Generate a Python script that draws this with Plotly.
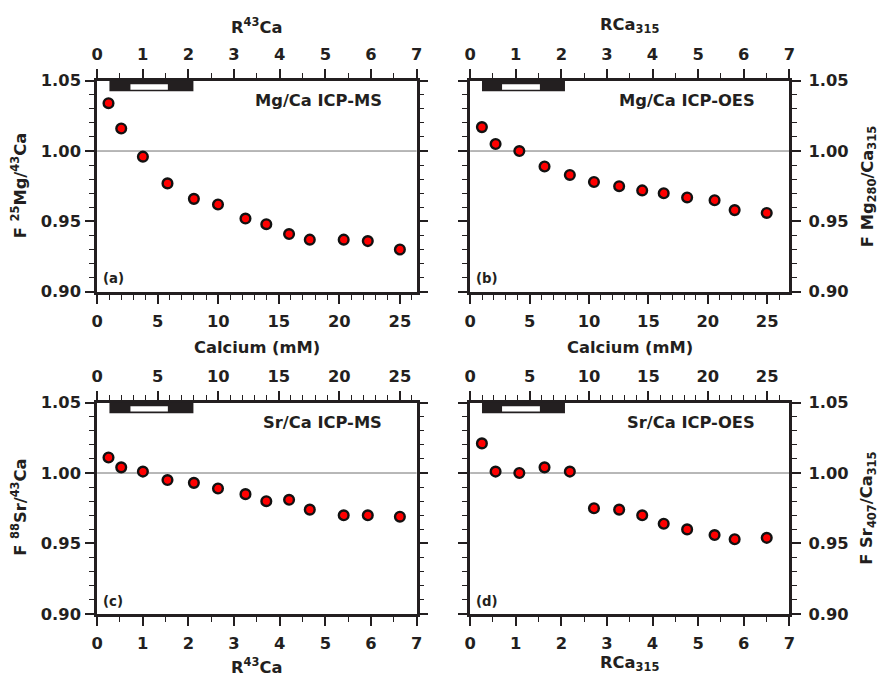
import plotly.graph_objects as go

W, H = 880, 683

# ---------------- data ----------------
calcium_ms = [0.94, 1.99, 3.78, 5.81, 7.99, 9.98, 12.25, 13.97, 15.85, 17.56, 20.36, 22.35, 25.0]
calcium_oes = [0.99, 2.14, 4.14, 6.26, 8.39, 10.42, 12.54, 14.48, 16.29, 18.26, 20.57, 22.26, 24.96]
f_mg_ms = [1.034, 1.016, 0.996, 0.977, 0.966, 0.962, 0.952, 0.948, 0.941, 0.937, 0.937, 0.936, 0.930]
f_mg_oes = [1.017, 1.005, 1.000, 0.989, 0.983, 0.978, 0.975, 0.972, 0.970, 0.967, 0.965, 0.958, 0.956]
f_sr_ms = [1.011, 1.004, 1.001, 0.995, 0.993, 0.989, 0.985, 0.980, 0.981, 0.974, 0.970, 0.970, 0.969]
f_sr_oes = [1.021, 1.001, 1.000, 1.004, 1.001, 0.975, 0.974, 0.970, 0.964, 0.960, 0.956, 0.953, 0.954]

# scale bars (in R units)
bar_ms = [0.27, 2.11]
white_ms = [0.73, 1.55]
bar_oes = [0.26, 2.08]
white_oes = [0.70, 1.53]

panel_titles = ["Mg/Ca ICP-MS", "Mg/Ca ICP-OES", "Sr/Ca ICP-MS", "Sr/Ca ICP-OES"]
panel_letters = ["(a)", "(b)", "(c)", "(d)"]
y_ticks = [0.90, 0.95, 1.00, 1.05]
ca_ticks = [0, 5, 10, 15, 20, 25]
r_ticks = [0, 1, 2, 3, 4, 5, 6, 7]

# ---------------- styling ----------------
INK = "#231f20"
FONT = "DejaVu Sans, Liberation Sans, Arial, sans-serif"
K = 1.02  # size factor

# target positions (reference pixels) are mapped to page pixels
SX = 880 / 864
SY = 683 / 667


def px(x):
    return ((x - 8) * SX) / W


def py(y):
    return 1 - ((y - 8) * SY) / H


cols = [(98.7, 416.7), (470.0, 787.7)]
rows = [(80.0, 292.0), (403.3, 615.7)]
ca_range = {"ms": [0, 26.38], "oes": [0, 26.86]}

panels = [
    dict(col=0, row=0, ca=calcium_ms, f=f_mg_ms, tech="ms", yside="left", ca_side="bottom", bar=bar_ms, white=white_ms),
    dict(col=1, row=0, ca=calcium_oes, f=f_mg_oes, tech="oes", yside="right", ca_side="bottom", bar=bar_oes, white=white_oes),
    dict(col=0, row=1, ca=calcium_ms, f=f_sr_ms, tech="ms", yside="left", ca_side="top", bar=bar_ms, white=white_ms),
    dict(col=1, row=1, ca=calcium_oes, f=f_sr_oes, tech="oes", yside="right", ca_side="top", bar=bar_oes, white=white_oes),
]

fig = go.Figure()
layout = dict(
    width=W, height=H,
    margin=dict(l=0, r=0, t=0, b=0),
    paper_bgcolor="white", plot_bgcolor="white",
    showlegend=False,
    font=dict(family=FONT, color=INK, size=16 * K, weight="bold"),
)
shapes = []
annotations = []

tickfont = dict(family=FONT, color=INK, size=16 * K, weight="bold")

for i, p in enumerate(panels):
    n = i + 1
    xa = "x" if n == 1 else f"x{n}"
    ya = "y" if n == 1 else f"y{n}"
    ra = f"x{n + 4}"
    xkey = "xaxis" if n == 1 else f"xaxis{n}"
    ykey = "yaxis" if n == 1 else f"yaxis{n}"
    rkey = f"xaxis{n + 4}"
    x0, x1 = cols[p["col"]]
    y0, y1 = rows[p["row"]]
    xdom = [px(x0), px(x1)]
    ydom = [py(y1), py(y0)]

    common_axis = dict(
        showline=True, linewidth=2.7, linecolor=INK,
        ticks="outside", ticklen=9, tickwidth=1.5, tickcolor=INK,
        showgrid=False, zeroline=False, tickfont=tickfont, fixedrange=True,
    )
    ca_standoff = 2 if p["ca_side"] == "top" else 4
    r_side = "top" if p["ca_side"] == "bottom" else "bottom"
    r_standoff = 2 if r_side == "top" else 4

    layout[xkey] = dict(
        common_axis, domain=xdom, anchor=ya, side=p["ca_side"],
        range=ca_range[p["tech"]], tickmode="array", tickvals=ca_ticks,
        minor=dict(dtick=1, ticklen=5, tickwidth=1.2, tickcolor=INK, ticks="outside", showgrid=False),
        ticklabelstandoff=ca_standoff,
    )
    layout[rkey] = dict(
        common_axis, overlaying=xa, anchor=ya, side=r_side,
        range=[0, 7], tickmode="array", tickvals=r_ticks,
        minor=dict(dtick=0.5, ticklen=5, tickwidth=1.2, tickcolor=INK, ticks="outside", showgrid=False),
        ticklabelstandoff=r_standoff,
    )
    layout[ykey] = dict(
        common_axis, domain=ydom, anchor=xa, side=p["yside"], mirror="ticks",
        range=[0.90, 1.05], tickmode="array", tickvals=y_ticks, tickformat=".2f",
        minor=dict(dtick=0.01, tick0=0.9, ticklen=5, tickwidth=1.2, tickcolor=INK, ticks="outside", showgrid=False),
        ticklabelstandoff=1 if p["yside"] == "left" else 4,
    )

    # reference line at 1.00
    shapes.append(dict(type="line", xref=f"{xa} domain", yref=ya, x0=0, x1=1, y0=1.0, y1=1.0,
                       line=dict(color="#707070", width=1), layer="below"))
    # scale bar
    shapes.append(dict(type="rect", xref=ra, yref=ya, x0=p["bar"][0], x1=p["bar"][1], y0=1.0424, y1=1.05,
                       fillcolor=INK, line=dict(width=0), layer="above"))
    shapes.append(dict(type="rect", xref=ra, yref=ya, x0=p["white"][0], x1=p["white"][1], y0=1.0436, y1=1.0474,
                       fillcolor="white", line=dict(width=0), layer="above"))

    # empty trace to bind R axis
    fig.add_trace(go.Scatter(x=[], y=[], xaxis=ra, yaxis=ya, hoverinfo="skip"))
    fig.add_trace(go.Scatter(
        x=p["ca"], y=p["f"], xaxis=xa, yaxis=ya, mode="markers",
        marker=dict(size=9.5 * K, color="#ff0000", line=dict(color="#111111", width=2.4)),
        cliponaxis=False,
    ))

    # panel title and letter
    annotations.append(dict(xref="paper", yref="paper", x=px(x1 - 32.5), y=py(y0 + 20),
                            xanchor="right", yanchor="middle", showarrow=False,
                            text=panel_titles[i], font=dict(size=16 * K, weight="bold", family=FONT, color=INK)))
    annotations.append(dict(xref="paper", yref="paper", x=px(x0 + 4), y=py(y1 - 13),
                            xanchor="left", yanchor="middle", showarrow=False,
                            text=panel_letters[i], font=dict(size=13 * K, weight="bold", family=FONT, color=INK)))

# axis titles
title_font = dict(size=16 * K, weight="bold", family=FONT, color=INK)
ax_titles = [
    (257.7, 25, "R<sup>43</sup>Ca", 0),
    (628.8, 25, "RCa<sub>315</sub>", 0),
    (257.7, 348, "Calcium (mM)", 0),
    (628.8, 348, "Calcium (mM)", 0),
    (257.7, 668, "R<sup>43</sup>Ca", 0),
    (628.8, 665, "RCa<sub>315</sub>", 0),
    (21, 186, "F <sup>25</sup>Mg/<sup>43</sup>Ca", -90),
    (866, 186, "F Mg<sub>280</sub>/Ca<sub>315</sub>", -90),
    (21, 509, "F <sup>88</sup>Sr/<sup>43</sup>Ca", -90),
    (866, 509, "F Sr<sub>407</sub>/Ca<sub>315</sub>", -90),
]
for x, y, t, ang in ax_titles:
    annotations.append(dict(xref="paper", yref="paper", x=px(x), y=py(y), xanchor="center", yanchor="middle",
                            showarrow=False, text=t, textangle=ang, font=title_font))

layout["shapes"] = shapes
layout["annotations"] = annotations
fig.update_layout(**layout)

fig.write_html(
    "out.html",
    config={"displayModeBar": False},
    post_script="document.body.style.margin='0px';document.body.style.overflow='hidden';",
)
